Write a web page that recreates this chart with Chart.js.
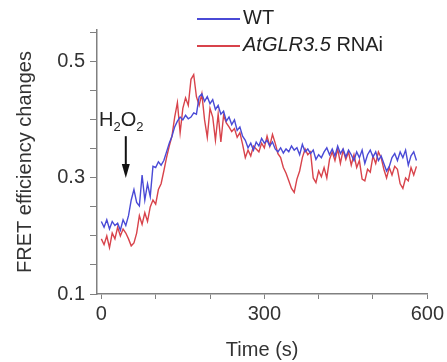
<!DOCTYPE html>
<html lang="en">
<head>
    <meta charset="UTF-8">
    <title>FRET efficiency changes</title>
    <script src="https://cdn.jsdelivr.net/npm/chart.js"></script>
    <style>
        body {
            margin: 0;
            background: #fff;
            font-family: "Liberation Sans", Arial, sans-serif;
        }
        .wrap {
            position: relative;
            width: 447px;
            height: 362px;
        }
        .legend {
            position: absolute;
            left: 197px;
            top: 4px;
            font-size: 20px;
            color: #222;
            line-height: 27px;
        }
        .legend .sw {
            display: inline-block;
            width: 43px;
            height: 2px;
            vertical-align: middle;
            margin-right: 3px;
        }
        .note {
            position: absolute;
            left: 99px;
            top: 108px;
            font-size: 20px;
            color: #222;
        }
        .note sub {
            font-size: 13px;
        }
    </style>
</head>
<body>
<div class="wrap">
    <canvas id="fretChart" width="447" height="362"></canvas>
    <div class="legend">
        <div><span class="sw" style="background:#4a4ad6"></span>WT</div>
        <div><span class="sw" style="background:#d8434b"></span><i>AtGLR3.5</i> RNAi</div>
    </div>
    <div class="note">H<sub>2</sub>O<sub>2</sub></div>
</div>

<script>
    // tiempo (s), muestras cada 5 s
    const times = [0, 5, 10, 15, 20, 25, 30, 35, 40, 45, 50, 55, 60, 65, 70, 75, 80, 85, 90, 95,
        100, 105, 110, 115, 120, 125, 130, 135, 140, 145, 150, 155, 160, 165, 170, 175, 180, 185, 190, 195,
        200, 205, 210, 215, 220, 225, 230, 235, 240, 245, 250, 255, 260, 265, 270, 275, 280, 285, 290, 295,
        300, 305, 310, 315, 320, 325, 330, 335, 340, 345, 350, 355, 360, 365, 370, 375, 380, 385, 390, 395,
        400, 405, 410, 415, 420, 425, 430, 435, 440, 445, 450, 455, 460, 465, 470, 475, 480, 485, 490, 495,
        500, 505, 510, 515, 520, 525, 530, 535, 540, 545, 550, 555, 560, 565, 570, 575, 580];

    const wtValues = [0.225, 0.215, 0.228, 0.212, 0.225, 0.218, 0.222, 0.210, 0.228, 0.218,
        0.235, 0.262, 0.280, 0.258, 0.252, 0.305, 0.262, 0.290, 0.268, 0.320,
        0.318, 0.328, 0.322, 0.330, 0.345, 0.360, 0.372, 0.388, 0.398, 0.405,
        0.400, 0.408, 0.402, 0.405, 0.412, 0.410, 0.440, 0.445, 0.432, 0.440,
        0.428, 0.435, 0.418, 0.425, 0.410, 0.415, 0.398, 0.405, 0.392, 0.400,
        0.382, 0.388, 0.372, 0.365, 0.352, 0.360, 0.348, 0.362, 0.355, 0.368,
        0.360, 0.365, 0.355, 0.362, 0.350, 0.345, 0.352, 0.343, 0.350, 0.345,
        0.355, 0.348, 0.352, 0.340, 0.358, 0.345, 0.350, 0.342, 0.348, 0.332,
        0.340, 0.335, 0.345, 0.352, 0.340, 0.350, 0.338, 0.355, 0.342, 0.350,
        0.336, 0.348, 0.340, 0.330, 0.345, 0.335, 0.348, 0.325, 0.340, 0.348,
        0.336, 0.345, 0.330, 0.338, 0.325, 0.312, 0.320, 0.335, 0.342, 0.330,
        0.345, 0.335, 0.348, 0.322, 0.338, 0.345, 0.330];

    const rnaiValues = [0.195, 0.185, 0.200, 0.180, 0.205, 0.195, 0.215, 0.200, 0.212, 0.205,
        0.195, 0.183, 0.188, 0.205, 0.235, 0.220, 0.240, 0.225, 0.250, 0.262,
        0.255, 0.280, 0.290, 0.312, 0.335, 0.355, 0.372, 0.405, 0.430, 0.378,
        0.420, 0.438, 0.425, 0.470, 0.478, 0.440, 0.425, 0.445, 0.400, 0.370,
        0.420, 0.405, 0.365, 0.410, 0.362, 0.408, 0.395, 0.388, 0.380, 0.385,
        0.370, 0.378, 0.358, 0.335, 0.348, 0.338, 0.355, 0.350, 0.345, 0.360,
        0.352, 0.372, 0.355, 0.375, 0.360, 0.342, 0.335, 0.318, 0.308, 0.295,
        0.282, 0.275, 0.298, 0.312, 0.335, 0.350, 0.340, 0.345, 0.300, 0.292,
        0.312, 0.302, 0.318, 0.300, 0.332, 0.345, 0.330, 0.350, 0.325, 0.348,
        0.332, 0.345, 0.322, 0.340, 0.318, 0.330, 0.298, 0.295, 0.315, 0.310,
        0.338, 0.325, 0.345, 0.335, 0.315, 0.300, 0.318, 0.305, 0.320, 0.315,
        0.290, 0.282, 0.300, 0.295, 0.318, 0.305, 0.320];

    const xTicks = [0, 100, 200, 300, 400, 500, 600];
    const xLabels = [0, 300, 600];
    const yTicks = [0.1, 0.15, 0.2, 0.25, 0.3, 0.35, 0.4, 0.45, 0.5, 0.55];
    const yLabels = ['0.1', '0.3', '0.5'];

    const arrowTime = 45;

    const axisColor = '#808080';
    const font = { family: '"Liberation Sans", Arial, sans-serif', size: 20 };

    function toPoints(vals) {
        return vals.map((v, i) => ({ x: times[i], y: v }));
    }

    // flecha del H2O2
    const arrowPlugin = {
        id: 'arrow',
        afterDatasetsDraw(chart) {
            const c = chart.ctx;
            const x = chart.scales.x.getPixelForValue(arrowTime);
            const y1 = chart.scales.y.getPixelForValue(0.372);
            const y2 = chart.scales.y.getPixelForValue(0.300);
            c.save();
            c.strokeStyle = '#111';
            c.fillStyle = '#111';
            c.lineWidth = 2;
            c.beginPath();
            c.moveTo(x, y1);
            c.lineTo(x, y2 - 12);
            c.stroke();
            c.beginPath();
            c.moveTo(x - 4, y2 - 14);
            c.lineTo(x + 4, y2 - 14);
            c.lineTo(x, y2);
            c.closePath();
            c.fill();
            c.restore();
        }
    };

    const ctx = document.getElementById('fretChart').getContext('2d');
    const fretChart = new Chart(ctx, {
        type: 'line',
        data: {
            datasets: [{
                label: 'WT',
                data: toPoints(wtValues),
                borderColor: '#4a4ad6',
                borderWidth: 1.4,
                pointRadius: 0,
                tension: 0
            }, {
                label: 'AtGLR3.5 RNAi',
                data: toPoints(rnaiValues),
                borderColor: '#d8434b',
                borderWidth: 1.4,
                pointRadius: 0,
                tension: 0
            }]
        },
        plugins: [arrowPlugin],
        options: {
            responsive: false,
            animation: false,
            layout: { padding: { top: 30, right: 19 } },
            plugins: {
                legend: { display: false },
                tooltip: { enabled: false }
            },
            scales: {
                x: {
                    type: 'linear',
                    min: -8,
                    max: 600,
                    afterBuildTicks: s => { s.ticks = xTicks.map(v => ({ value: v })); },
                    afterFit: s => { s.height = 68; },
                    grid: { display: true, drawOnChartArea: false, drawTicks: true, tickLength: 5, color: axisColor },
                    border: { display: true, color: axisColor, width: 1.5 },
                    ticks: {
                        autoSkip: false,
                        maxRotation: 0,
                        padding: 3,
                        color: '#333',
                        font: font,
                        callback: v => xLabels.includes(v) ? String(v) : ''
                    },
                    title: {
                        display: true,
                        text: 'Time (s)',
                        color: '#333',
                        font: font,
                        padding: { top: 4, bottom: 0 }
                    }
                },
                y: {
                    min: 0.1,
                    max: 0.555,
                    afterBuildTicks: s => { s.ticks = yTicks.map(v => ({ value: v })); },
                    afterFit: s => { s.width = 97; },
                    grid: { display: true, drawOnChartArea: false, drawTicks: true, tickLength: 7, color: axisColor },
                    border: { display: true, color: axisColor, width: 1.5 },
                    ticks: {
                        autoSkip: false,
                        padding: 5,
                        color: '#333',
                        font: font,
                        callback: v => {
                            const s = v.toFixed(1);
                            return (Math.abs(v * 10 - Math.round(v * 10)) < 1e-6 && yLabels.includes(s)) ? s : '';
                        }
                    },
                    title: {
                        display: true,
                        text: 'FRET efficiency changes',
                        color: '#333',
                        font: font,
                        padding: { top: 13, bottom: 4 }
                    }
                }
            }
        }
    });
</script>
</body>
</html>
